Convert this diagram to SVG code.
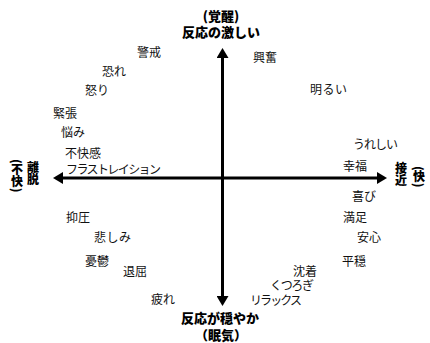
<svg xmlns="http://www.w3.org/2000/svg" width="430" height="343" viewBox="0 0 430 343">
<style>
  text { font-family: "Noto Sans CJK JP", "Liberation Sans", sans-serif; fill: #111; }
  .lbl { font-size: 12px; }
  .ttl { font-size: 13px; font-weight: 900; text-anchor: middle; fill: #000; }
  .vt { font-size: 12px; font-weight: 900; writing-mode: vertical-rl; fill: #000; }
  .axis { stroke: #000; stroke-width: 3; fill: none; }
</style>
<defs>
  <marker id="ah" viewBox="0 0 10 12" refX="3" refY="6" markerWidth="10" markerHeight="12" markerUnits="userSpaceOnUse" orient="auto-start-reverse">
    <path d="M0,0 L10,6 L0,12 z" fill="#000"/>
  </marker>
</defs>
<rect width="430" height="343" fill="#fff"/>
<g id="connectors">
  <line class="axis" x1="222.5" y1="55" x2="222.5" y2="299" marker-start="url(#ah)" marker-end="url(#ah)"/>
  <line class="axis" x1="60" y1="178" x2="380" y2="178" marker-start="url(#ah)" marker-end="url(#ah)"/>
</g>
<g id="top-label">
  <text class="ttl" x="221" y="21">(覚醒)</text>
  <text class="ttl" x="221" y="37">反応の激しい</text>
</g>
<g id="bottom-label">
  <text class="ttl" x="220" y="323">反応が穏やか</text>
  <text class="ttl" x="221" y="340">（眠気）</text>
</g>
<g id="left-label">
  <text class="vt" x="33" y="161">離脱</text>
  <text class="vt" x="17" y="159">(不快)</text>
</g>
<g id="right-label">
  <text class="vt" x="401" y="162">接近</text>
  <text class="vt" x="419" y="166">(快)</text>
</g>
<g id="emotions" class="lbl">
  <text class="lbl" x="137" y="57">警戒</text>
  <text class="lbl" x="102" y="76">恐れ</text>
  <text class="lbl" x="85" y="95">怒り</text>
  <text class="lbl" x="53" y="118">緊張</text>
  <text class="lbl" x="61" y="137">悩み</text>
  <text class="lbl" x="65" y="158">不快感</text>
  <text class="lbl" x="66" y="174" textLength="95">フラストレイション</text>
  <text class="lbl" x="253" y="62">興奮</text>
  <text class="lbl" x="310" y="94" textLength="37">明るい</text>
  <text class="lbl" x="353" y="149" textLength="45">うれしい</text>
  <text class="lbl" x="343" y="171">幸福</text>
  <text class="lbl" x="66" y="222">抑圧</text>
  <text class="lbl" x="94" y="242" textLength="37">悲しみ</text>
  <text class="lbl" x="85" y="266">憂鬱</text>
  <text class="lbl" x="123" y="276">退屈</text>
  <text class="lbl" x="151" y="304">疲れ</text>
  <text class="lbl" x="352" y="201">喜び</text>
  <text class="lbl" x="343" y="222">満足</text>
  <text class="lbl" x="357" y="242">安心</text>
  <text class="lbl" x="342" y="266">平穏</text>
  <text class="lbl" x="293" y="276">沈着</text>
  <text class="lbl" x="270" y="290" textLength="44">くつろぎ</text>
  <text class="lbl" x="250" y="305" textLength="52">リラックス</text>
</g>
</svg>
